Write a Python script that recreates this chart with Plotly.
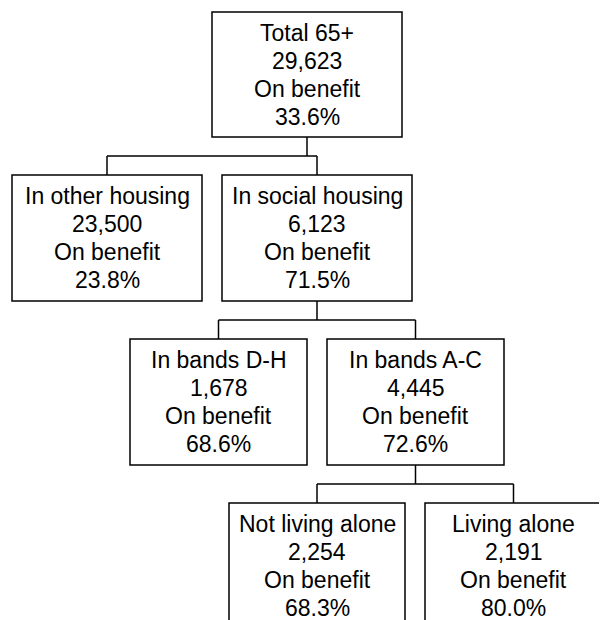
import plotly.graph_objects as go

# ---- data ----
labels = ["Total 65+", "In other housing", "In social housing", "In bands D-H",
          "In bands A-C", "Not living alone", "Living alone"]
counts = [29623, 23500, 6123, 1678, 4445, 2254, 2191]
on_benefit_pct = [33.6, 23.8, 71.5, 68.6, 72.6, 68.3, 80.0]
parents = [None, 0, 0, 2, 2, 4, 4]

# ---- layout (pixel-like coordinates) ----
box_x0 = [212, 12, 222, 130, 327, 229, 425]
box_x1 = [402, 202, 412, 307, 504, 405, 602]
box_y0 = [12, 175, 175, 339, 339, 503, 503]
box_y1 = [137, 301, 301, 465, 465, 640, 640]

FONT = dict(family="Arial, 'Liberation Sans', sans-serif", size=23, color="#000000")
LINE = dict(color="#000000", width=1.5)
first_line_offset = 21
line_step = 28
PAGE_OFFSET = 8  # page body margin

fig = go.Figure()
shapes = []
annotations = []

for i, lab in enumerate(labels):
    x0, x1, y0, y1 = box_x0[i], box_x1[i], box_y0[i], box_y1[i]
    shapes.append(dict(type="rect", xref="x", yref="y", x0=x0, x1=x1, y0=y0, y1=y1,
                       line=LINE, fillcolor="white", layer="above"))
    cx = (x0 + x1) / 2
    lines = [lab, f"{counts[i]:,}", "On benefit", f"{on_benefit_pct[i]:.1f}%"]
    for k, t in enumerate(lines):
        annotations.append(dict(x=cx, y=y0 + first_line_offset + k * line_step,
                                xref="x", yref="y", text=t, showarrow=False,
                                xanchor="center", yanchor="middle", font=FONT))

# connectors
children = {}
for i, p in enumerate(parents):
    if p is not None:
        children.setdefault(p, []).append(i)

for p, ch in children.items():
    pcx = (box_x0[p] + box_x1[p]) / 2
    pb = box_y1[p]
    ct = min(box_y0[c] for c in ch)
    ymid = (pb + ct) / 2
    shapes.append(dict(type="line", xref="x", yref="y", x0=pcx, x1=pcx, y0=pb, y1=ymid, line=LINE))
    ccx = [(box_x0[c] + box_x1[c]) / 2 for c in ch]
    shapes.append(dict(type="line", xref="x", yref="y", x0=min(ccx), x1=max(ccx), y0=ymid, y1=ymid, line=LINE))
    for c, cx in zip(ch, ccx):
        shapes.append(dict(type="line", xref="x", yref="y", x0=cx, x1=cx, y0=ymid, y1=box_y0[c], line=LINE))

fig.update_layout(
    width=607, height=620,
    margin=dict(l=0, r=0, t=0, b=0),
    paper_bgcolor="white", plot_bgcolor="white",
    xaxis=dict(range=[PAGE_OFFSET, 607 + PAGE_OFFSET], visible=False, fixedrange=True),
    yaxis=dict(range=[620 + PAGE_OFFSET, PAGE_OFFSET], visible=False, fixedrange=True),
    shapes=shapes, annotations=annotations, showlegend=False,
)

fig.write_html("out.html")
